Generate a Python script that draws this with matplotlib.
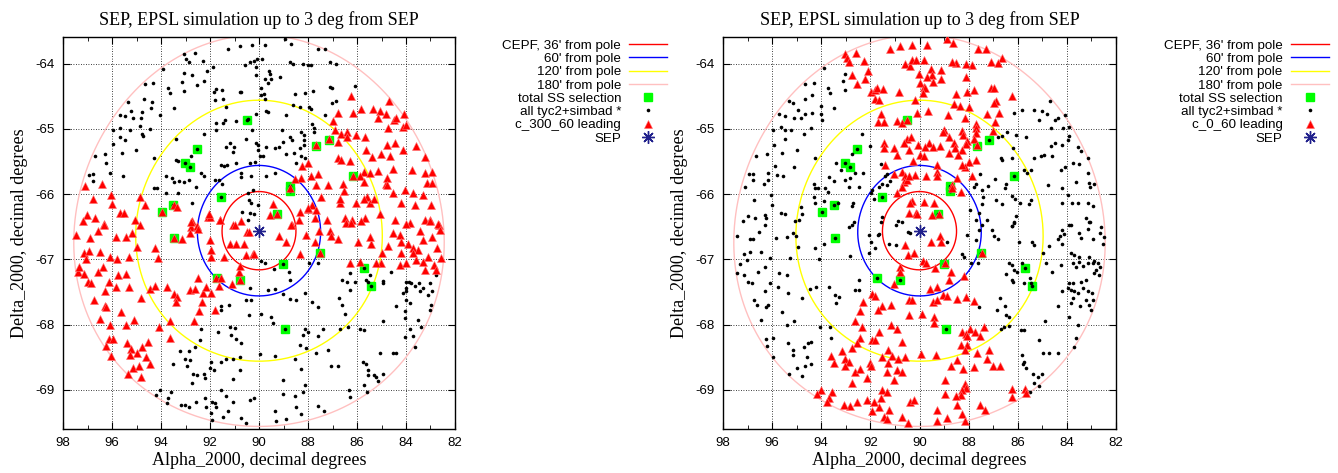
import numpy as np
import matplotlib
matplotlib.use("Agg")
import matplotlib.pyplot as plt

plt.rcParams['axes.unicode_minus'] = False
plt.rcParams['font.family'] = ['Liberation Sans', 'DejaVu Sans']

# South ecliptic pole and the rings drawn around it
sep_ra, sep_dec = 90.0, -66.5607
ring_arcmin = [36, 60, 120, 180]
ring_labels = ["CEPF, 36' from pole", "60' from pole", "120' from pole", "180' from pole"]
ring_colors = ['#ff0000', '#0000ff', '#ffff00', '#ffc0c0']

# total SS selection (same stars in both panels)
green_ss = np.array([
    (90.49, -64.86), (92.54, -65.31), (93.02, -65.53), (92.83, -65.59), (91.54, -66.05),
    (93.95, -66.28), (93.50, -66.17), (93.45, -66.68), (89.25, -66.30), (88.75, -65.88),
    (88.75, -65.95), (87.66, -65.26), (87.16, -65.17), (86.16, -65.73), (87.50, -66.90),
    (89.01, -67.07), (91.73, -67.28), (90.79, -67.32), (88.93, -68.06), (85.70, -67.14),
    (85.44, -67.41)])

# left panel: stars not selected (black) and c_300_60 leading (red)
left_black = np.array([
    (91.27, -63.78), (90.79, -63.73), (90.27, -63.72), (93.07, -63.86), (92.99, -63.93),
    (92.86, -63.97), (92.60, -63.84), (92.29, -63.96), (91.88, -64.05), (90.57, -64.02),
    (90.35, -63.98), (90.22, -63.96), (93.93, -64.08), (93.07, -64.15), (92.75, -64.18),
    (93.13, -64.28), (92.53, -64.33), (92.24, -64.26), (92.12, -64.12), (93.07, -64.42),
    (94.65, -64.32), (94.33, -64.29), (93.73, -64.38), (93.65, -64.45), (91.85, -64.43),
    (91.77, -64.39), (91.50, -64.40), (90.79, -64.44), (95.36, -64.59), (95.22, -64.72),
    (95.69, -64.79), (95.48, -64.81), (95.14, -64.84), (94.82, -64.83), (94.76, -64.74),
    (94.87, -64.95), (94.39, -64.68), (94.38, -64.59), (94.71, -64.55), (94.03, -64.79),
    (93.47, -64.68), (91.81, -64.56), (91.47, -64.55), (91.74, -64.91), (91.47, -64.91),
    (90.93, -64.88), (90.45, -64.85), (95.96, -65.02), (95.66, -64.98), (95.28, -65.02),
    (95.66, -65.13), (95.47, -65.17), (95.96, -65.23), (94.76, -65.08), (94.73, -65.11),
    (94.44, -65.00), (95.01, -65.33), (95.61, -65.37), (96.27, -65.38), (96.68, -65.42),
    (96.23, -65.52), (96.07, -65.67), (96.94, -65.70), (96.78, -65.69), (96.78, -65.80),
    (95.55, -65.73), (94.29, -65.45), (93.40, -65.15), (94.30, -65.90), (94.16, -65.91),
    (93.78, -65.72), (93.55, -65.76), (93.48, -65.82), (93.27, -65.80), (93.07, -65.82),
    (92.86, -65.78), (92.56, -65.89), (93.29, -65.49), (93.40, -65.47), (92.78, -65.42),
    (92.26, -65.08), (92.35, -65.68), (92.26, -65.72), (93.78, -65.98), (93.30, -65.98),
    (92.73, -66.14), (91.74, -65.01), (91.40, -64.87), (91.33, -65.28), (91.03, -65.28),
    (91.20, -65.22), (91.06, -65.36), (90.93, -65.53), (90.72, -65.68), (90.72, -65.74),
    (90.54, -65.15), (90.27, -65.02), (90.11, -65.22), (90.04, -65.33), (90.38, -65.53),
    (90.31, -65.73), (90.18, -65.51), (90.24, -65.94), (91.54, -65.55), (91.44, -65.57),
    (91.29, -65.55), (91.80, -65.78), (91.63, -65.78), (91.50, -65.85), (90.73, -64.44),
    (91.33, -64.66), (90.45, -65.99), (90.41, -66.09), (90.31, -66.14), (90.68, -66.27),
    (90.38, -66.29), (90.22, -66.30), (90.45, -66.39),
    (89.76, -63.72), (88.95, -63.63), (88.68, -63.70), (87.59, -63.78), (87.32, -63.78),
    (90.07, -63.93), (89.88, -63.93), (88.72, -63.97), (88.61, -64.00), (88.20, -64.00),
    (88.00, -64.02), (87.86, -64.02), (87.12, -63.98), (86.87, -64.00), (90.11, -64.05),
    (90.14, -64.17), (89.59, -64.11), (89.56, -64.16), (89.50, -64.23), (89.77, -64.23),
    (89.63, -64.30), (89.13, -64.20), (89.90, -64.38), (89.81, -64.46), (89.93, -64.48),
    (89.77, -64.54), (88.54, -64.46), (88.14, -64.45), (87.80, -64.42), (87.12, -64.36),
    (87.01, -64.38), (86.87, -64.57), (87.01, -64.61), (86.10, -64.34), (89.73, -64.72),
    (89.63, -64.74), (90.11, -64.77), (88.88, -64.79), (88.61, -64.64), (88.34, -64.67),
    (87.96, -64.67), (87.89, -64.69), (87.32, -64.79), (89.06, -65.01), (88.75, -65.12),
    (88.65, -65.17), (89.02, -65.20), (88.27, -65.05), (88.18, -65.10), (88.18, -65.17),
    (88.34, -65.30), (88.16, -65.25), (87.82, -64.93), (87.76, -64.99), (87.76, -65.05),
    (90.04, -65.25), (89.97, -65.42), (89.84, -65.42), (89.70, -65.28), (89.36, -65.29),
    (89.18, -65.28), (88.88, -65.39), (88.59, -65.37), (88.27, -65.42), (88.11, -65.44),
    (88.48, -65.53), (89.33, -65.67), (89.73, -65.72), (90.05, -66.16),
    (91.54, -67.71), (91.22, -67.70), (91.55, -67.78), (90.52, -67.63), (90.31, -67.62),
    (90.42, -67.86), (92.38, -68.07), (91.69, -68.11), (91.20, -68.03), (91.00, -68.05),
    (91.13, -68.16), (90.93, -68.22), (90.72, -68.28), (92.42, -68.24), (92.63, -68.35),
    (92.86, -68.40), (93.21, -68.40), (93.03, -68.53), (92.80, -68.54), (92.94, -68.64),
    (93.51, -68.60), (92.69, -68.76), (92.53, -68.77), (92.26, -68.76), (92.19, -68.82),
    (92.73, -68.89), (91.95, -68.58), (91.99, -68.67), (91.84, -68.69), (91.06, -68.52),
    (90.76, -68.49), (91.36, -68.52), (91.54, -68.58), (90.79, -68.69), (91.06, -68.84),
    (94.19, -69.08), (94.03, -69.00), (93.71, -69.13), (93.76, -69.20), (93.58, -69.03),
    (93.17, -69.23), (93.03, -69.23), (92.86, -69.26), (92.56, -69.18), (92.22, -69.13),
    (91.92, -69.18), (91.81, -69.20), (92.15, -69.26), (91.74, -69.26), (91.06, -69.18),
    (91.33, -69.10), (91.56, -69.00), (91.95, -69.35), (91.47, -69.41), (91.90, -69.46),
    (90.72, -69.43), (90.52, -69.51), (91.27, -69.32), (90.38, -69.15), (90.22, -69.13),
    (89.90, -67.03), (89.77, -67.06), (89.39, -67.15), (88.79, -67.20), (88.75, -67.32),
    (87.96, -67.06), (87.59, -67.05), (89.62, -67.47), (89.36, -67.46), (89.02, -67.53),
    (88.75, -67.61), (88.50, -67.62), (88.14, -67.51), (87.82, -67.65), (87.59, -67.73),
    (86.73, -67.59), (86.60, -67.70), (86.50, -67.84), (90.38, -67.44), (89.90, -67.84),
    (89.50, -67.89), (89.43, -67.98), (88.14, -68.06), (88.20, -68.16), (88.00, -68.11),
    (87.39, -68.06), (87.59, -68.18), (86.71, -68.06), (86.37, -68.03), (85.89, -68.07),
    (85.73, -68.08), (88.34, -68.31), (88.07, -68.36), (87.69, -68.43), (87.18, -68.39),
    (87.05, -68.64), (86.78, -68.64), (88.54, -68.52), (88.27, -68.68), (89.97, -68.45),
    (89.36, -68.48), (89.02, -68.85), (89.02, -69.06), (89.36, -69.32), (89.32, -69.48),
    (88.88, -69.45), (88.48, -69.26), (88.14, -68.92), (88.20, -69.03), (88.54, -69.09),
    (87.59, -69.24), (87.36, -69.32), (88.30, -69.37), (86.33, -69.00), (86.30, -69.11),
    (85.73, -68.92), (85.59, -69.04), (85.76, -68.57), (85.65, -68.60), (85.55, -68.69),
    (85.55, -68.77), (85.32, -68.77), (85.21, -68.81), (85.14, -68.87), (84.94, -68.76),
    (85.07, -68.43), (84.53, -68.44), (84.39, -68.43), (84.94, -67.94), (84.05, -68.19),
    (84.05, -67.90), (84.03, -67.79), (83.85, -68.06), (83.71, -68.18), (83.51, -67.93),
    (83.65, -68.34), (83.37, -68.03), (83.03, -67.78), (82.97, -67.70), (83.09, -67.55),
    (82.93, -67.49), (83.31, -67.44), (83.41, -67.49), (83.88, -67.34), (84.01, -67.34),
    (83.78, -67.37), (83.65, -67.41), (83.47, -67.37), (83.99, -67.44), (84.01, -67.49),
    (84.12, -67.52), (83.99, -67.62), (83.85, -67.67), (83.03, -67.36), (82.79, -67.24),
    (84.60, -67.19), (85.48, -67.24), (85.65, -67.32), (85.54, -67.34), (84.94, -67.33),
    (84.94, -67.37), (84.42, -67.72), (86.30, -67.21), (86.30, -67.47), (86.60, -67.32),
    (86.40, -67.34), (86.10, -67.34)])

left_red = np.array([
    (97.12, -65.88), (96.39, -65.84), (96.78, -66.08), (96.03, -66.01), (96.00, -66.15),
    (94.84, -66.05), (94.65, -66.16), (97.02, -66.32), (96.71, -66.36), (96.31, -66.46),
    (95.66, -66.29), (95.51, -66.29), (95.07, -66.39), (94.87, -66.47), (93.95, -66.28),
    (93.48, -66.16), (93.35, -66.20), (92.75, -66.41), (92.79, -66.50), (92.53, -66.49),
    (92.08, -66.35), (91.99, -66.35), (91.61, -66.40), (91.06, -66.47), (90.72, -66.41),
    (92.04, -66.30), (91.58, -66.40), (90.97, -66.48), (92.48, -66.54),
    (86.26, -64.49), (84.69, -64.57), (86.78, -64.75), (86.16, -64.75), (85.85, -64.70),
    (85.35, -64.70), (85.07, -64.72), (84.83, -64.78), (85.14, -64.84), (84.73, -64.99),
    (84.50, -64.86), (84.42, -64.83), (84.10, -64.78), (84.12, -64.97), (83.99, -64.94),
    (86.98, -64.88), (86.91, -65.02), (86.67, -65.08), (86.39, -65.05), (86.40, -65.12),
    (86.78, -65.20), (86.03, -65.09), (87.16, -65.15), (87.66, -65.25), (85.66, -65.12),
    (85.65, -65.32), (86.27, -65.49), (86.78, -65.45), (86.64, -65.48), (84.78, -65.24),
    (84.46, -65.22), (84.12, -65.33), (83.58, -65.27), (83.22, -65.43), (85.37, -65.43),
    (85.01, -65.39), (84.67, -65.42), (84.53, -65.62), (83.74, -65.63), (83.22, -65.67),
    (82.93, -65.66), (85.73, -65.66), (85.46, -65.67), (85.86, -65.73), (85.14, -65.64),
    (84.80, -65.85), (84.76, -65.76), (86.16, -65.72), (86.57, -65.84), (86.54, -65.95),
    (87.18, -65.86), (87.69, -65.86), (87.86, -65.73), (87.59, -65.69), (88.23, -65.57),
    (88.00, -65.52), (87.46, -66.04), (85.71, -65.81), (85.59, -66.05), (85.73, -66.08),
    (85.48, -66.14), (85.29, -66.07), (84.78, -65.86), (84.53, -65.99), (84.04, -65.93),
    (83.71, -65.98), (83.14, -65.83), (82.93, -65.83), (83.31, -66.02), (82.97, -66.17),
    (83.62, -66.17), (84.19, -66.13), (87.84, -66.17), (88.75, -65.90), (88.27, -65.76),
    (86.71, -66.14), (86.68, -66.08), (86.03, -66.13), (88.54, -65.77), (88.34, -66.27),
    (88.00, -66.23), (87.73, -66.36), (87.66, -66.25), (89.43, -66.15), (89.56, -66.32),
    (89.25, -66.30), (88.64, -66.47), (87.22, -66.39), (86.50, -66.36), (86.19, -66.39),
    (85.69, -66.37), (85.05, -66.31), (84.44, -66.39), (83.85, -66.44), (83.21, -66.40),
    (83.03, -66.40), (82.67, -66.47), (88.37, -66.40), (87.99, -66.22),
    (97.18, -66.41), (96.33, -66.47), (96.57, -66.56), (96.91, -66.68), (97.46, -66.63),
    (95.82, -66.66), (95.41, -66.65), (95.20, -66.59), (94.98, -66.81), (94.26, -66.83),
    (93.13, -66.69), (93.45, -66.68), (97.16, -66.91), (96.95, -66.87), (96.48, -66.88),
    (97.05, -67.00), (96.10, -66.96), (95.80, -67.00), (95.31, -66.97), (94.12, -66.98),
    (97.39, -67.20), (97.16, -67.22), (97.35, -67.12), (96.57, -67.19), (96.37, -67.11),
    (96.98, -67.34), (96.84, -67.37), (96.12, -67.34), (95.76, -67.24), (95.41, -67.23),
    (96.30, -67.48), (95.82, -67.42), (95.31, -67.42), (94.83, -67.59), (94.46, -67.45),
    (94.23, -67.41), (93.74, -67.42), (96.73, -67.63), (96.30, -67.71), (96.23, -67.73),
    (96.48, -67.92), (95.65, -67.80), (95.12, -67.93), (95.41, -68.01), (96.10, -68.01),
    (93.47, -67.53), (93.35, -67.58), (93.40, -67.66), (92.83, -67.47), (92.63, -67.45),
    (92.29, -67.51), (92.49, -67.29), (92.33, -67.66), (92.45, -67.79), (92.65, -67.94),
    (93.65, -67.95), (94.08, -68.03), (91.95, -66.97), (91.77, -67.28), (91.54, -67.28),
    (90.79, -67.31), (91.09, -67.38), (90.82, -67.20), (90.79, -67.10), (91.63, -67.41),
    (91.96, -67.52), (91.81, -67.77), (92.15, -67.42), (91.44, -66.97), (91.95, -66.86),
    (91.20, -66.76), (90.95, -66.77), (90.63, -66.77), (90.52, -66.93), (90.24, -66.92),
    (90.49, -66.58), (90.41, -66.58), (92.83, -66.59), (91.99, -66.71), (92.76, -66.42),
    (96.12, -68.22), (95.96, -68.22), (96.26, -68.33), (95.39, -68.28), (95.21, -68.38),
    (95.28, -68.46), (94.98, -68.43), (94.63, -68.49), (94.53, -68.26), (94.76, -68.34),
    (96.03, -68.48), (95.14, -68.67), (94.90, -68.64), (95.35, -68.76), (94.80, -68.80),
    (94.46, -68.60), (93.65, -68.21), (88.68, -66.47), (89.18, -66.64), (88.91, -66.73),
    (90.22, -66.92), (88.31, -66.92), (88.07, -66.63), (87.55, -66.56), (87.73, -66.73),
    (87.50, -66.90), (87.12, -66.56), (87.05, -66.64), (86.78, -66.69), (86.46, -66.45),
    (86.23, -66.44), (85.85, -66.41), (85.96, -66.73), (85.41, -66.77), (85.48, -66.65),
    (84.99, -66.91), (84.73, -66.79), (85.01, -67.05), (85.21, -67.06), (84.26, -67.09),
    (83.99, -67.06), (83.99, -66.46), (83.44, -66.56), (83.03, -66.41), (82.69, -66.46),
    (82.63, -66.55), (82.93, -66.66), (83.31, -66.70), (84.53, -66.60), (84.26, -66.63),
    (84.19, -66.73), (83.92, -66.76), (83.71, -66.83), (83.51, -66.86), (83.61, -67.01),
    (83.10, -66.97), (82.86, -67.09), (83.24, -67.16), (82.76, -67.16), (82.56, -66.98),
    (82.73, -66.83), (83.71, -66.91), (83.31, -67.04), (84.19, -66.90), (86.30, -67.05),
    (85.89, -67.04)])

# right panel: stars not selected (black) and c_0_60 leading (red)
right_black = np.array([
    (93.88, -64.07), (93.12, -64.27), (93.05, -64.16), (93.02, -64.41), (93.63, -64.45),
    (93.73, -64.37), (94.31, -64.29), (94.65, -64.32), (94.68, -64.55), (94.38, -64.48),
    (95.17, -64.61), (95.33, -64.58), (95.47, -64.81), (95.71, -64.78), (94.95, -64.71),
    (95.09, -64.84), (94.82, -64.83), (94.68, -64.78), (94.38, -64.76), (93.99, -64.65),
    (94.00, -64.78), (93.95, -64.87), (93.50, -64.68), (94.41, -64.98), (94.71, -65.08),
    (95.63, -64.97), (95.47, -65.02), (95.22, -65.02), (95.95, -65.02), (95.92, -65.24),
    (95.47, -65.16), (95.58, -65.37), (94.99, -65.33), (96.22, -65.39), (95.88, -65.57),
    (95.81, -65.71), (95.54, -65.73), (95.09, -65.59), (96.18, -65.67), (96.15, -65.78),
    (96.65, -65.42), (97.10, -65.89), (96.72, -66.09), (96.93, -65.69), (96.76, -65.69),
    (96.76, -65.79), (96.35, -65.85), (96.05, -66.01), (96.01, -66.17), (94.24, -65.45),
    (94.27, -65.90), (94.14, -65.90), (93.86, -65.90), (94.31, -65.85), (93.90, -66.11),
    (93.73, -65.97), (93.50, -65.80), (93.40, -65.52), (92.75, -65.39), (92.30, -65.67),
    (92.64, -65.67), (92.88, -65.89), (93.18, -65.63), (93.05, -65.78), (92.84, -65.76),
    (92.48, -65.89), (93.70, -65.74), (92.34, -65.08), (92.00, -65.27), (91.39, -65.73),
    (91.32, -65.69), (91.22, -65.80), (91.55, -65.54), (91.97, -65.99), (91.93, -65.94),
    (91.86, -66.07), (91.66, -65.89), (91.52, -65.85), (91.32, -65.86), (92.75, -66.19),
    (92.72, -66.13), (92.68, -66.42), (92.75, -66.47), (93.32, -66.14), (94.31, -66.05),
    (94.24, -66.14), (94.82, -66.20), (94.79, -66.31), (94.90, -66.39), (95.06, -66.41),
    (95.63, -66.29), (95.47, -66.30), (96.31, -66.32), (96.24, -66.36), (96.99, -66.34),
    (96.69, -66.36), (91.56, -66.42), (91.52, -66.35), (90.88, -66.41), (90.73, -66.42),
    (84.68, -64.58), (85.81, -64.71), (86.15, -64.76), (85.33, -64.71), (85.02, -64.72),
    (84.79, -64.77), (85.13, -64.86), (84.38, -64.84), (84.48, -64.87), (84.65, -64.99),
    (84.07, -64.79), (83.90, -64.97), (84.15, -64.98), (86.42, -65.05), (86.63, -65.11),
    (86.79, -65.13), (86.08, -65.10), (85.65, -65.13), (86.19, -65.30), (86.69, -65.45),
    (86.63, -65.48), (86.24, -65.45), (85.33, -65.44), (85.06, -65.41), (84.93, -65.40),
    (84.65, -65.27), (84.61, -65.42), (84.18, -65.25), (84.48, -65.22), (83.97, -65.17),
    (83.90, -65.11), (83.56, -65.28), (83.43, -65.34), (83.16, -65.45), (83.77, -65.53),
    (83.50, -65.54), (84.07, -65.58), (84.24, -65.63), (85.47, -65.63), (85.61, -65.68),
    (85.74, -65.63), (86.49, -65.85), (86.93, -65.77), (87.20, -65.87), (87.55, -65.69),
    (87.71, -65.84), (87.78, -65.89), (87.47, -65.94), (87.41, -66.05), (86.87, -66.09),
    (86.63, -66.15), (87.44, -66.15), (87.96, -66.24), (87.58, -66.29), (87.69, -66.39),
    (87.44, -66.47), (87.24, -66.40), (86.52, -65.90), (86.24, -66.03), (86.11, -66.07),
    (85.92, -66.14), (85.47, -66.09), (85.56, -66.15), (86.08, -66.33), (86.24, -66.49),
    (86.15, -66.44), (84.75, -65.86), (84.18, -65.91), (83.61, -65.81), (83.16, -65.68),
    (83.09, -65.83), (83.06, -65.89), (82.88, -65.85), (83.97, -66.02), (84.18, -66.13),
    (83.80, -66.14), (83.56, -66.14), (83.16, -66.14), (82.95, -66.18), (83.22, -66.37),
    (83.09, -66.42), (83.84, -66.47),
    (97.17, -66.41), (96.29, -66.47), (96.53, -66.58), (96.90, -66.69), (96.76, -66.69),
    (97.41, -66.64), (97.13, -66.92), (96.90, -66.88), (96.45, -66.89), (97.03, -67.01),
    (97.31, -67.07), (97.44, -67.21), (97.13, -67.24), (96.56, -67.20), (96.31, -67.11),
    (96.99, -67.34), (96.83, -67.37), (96.31, -67.49), (96.72, -67.63), (96.63, -67.70),
    (96.26, -67.73), (96.18, -67.70), (96.45, -67.93), (95.95, -68.21), (96.24, -68.22),
    (96.22, -68.33), (95.97, -68.49), (95.33, -68.76), (94.99, -68.67), (94.79, -68.79),
    (94.68, -68.64), (94.59, -68.50), (94.41, -68.60), (94.72, -68.34), (94.52, -68.28),
    (94.41, -68.26), (95.17, -68.39), (95.13, -68.46), (95.36, -68.28), (95.61, -67.80),
    (95.40, -68.01), (95.09, -67.94), (95.36, -67.52), (95.40, -67.24), (95.71, -67.21),
    (95.78, -67.42), (96.08, -67.36), (96.08, -66.98), (95.84, -66.68), (95.40, -66.66),
    (95.17, -66.59), (95.03, -66.64), (94.93, -66.81), (95.29, -66.98), (94.24, -66.83),
    (93.90, -66.76), (94.11, -67.00), (94.79, -67.60), (94.45, -67.46), (94.22, -67.42),
    (94.04, -68.03), (93.63, -68.04), (93.61, -68.21), (93.70, -67.43), (93.43, -67.55),
    (93.29, -67.58), (93.39, -67.67), (92.88, -66.51), (92.82, -66.95), (92.48, -67.32),
    (92.61, -67.47), (92.45, -67.47), (92.07, -66.63), (91.96, -66.73), (92.07, -66.91),
    (91.80, -66.83), (91.69, -66.63), (91.63, -66.61), (91.25, -66.76), (90.95, -66.78),
    (90.46, -66.58), (90.37, -66.59), (90.94, -66.48),
    (88.87, -66.73), (88.05, -66.63), (87.58, -66.55), (87.69, -66.70), (87.06, -66.55),
    (86.97, -66.64), (86.79, -66.69), (86.15, -66.42), (86.22, -66.49), (85.95, -66.73),
    (85.43, -66.73), (85.33, -66.78), (84.99, -66.90), (84.72, -66.80), (84.38, -66.69),
    (84.18, -66.77), (84.29, -66.64), (84.11, -66.61), (84.20, -66.55), (83.90, -66.47),
    (83.50, -66.59), (83.43, -66.68), (83.06, -66.42), (83.12, -66.54), (82.61, -66.50),
    (82.65, -66.59), (82.95, -66.69), (82.50, -66.65), (82.54, -66.76), (88.26, -66.92),
    (88.19, -66.97), (87.92, -67.06), (87.61, -67.06), (86.46, -67.22), (86.35, -67.05),
    (86.24, -67.09), (86.15, -67.16), (86.05, -67.20), (86.24, -67.32), (86.19, -67.34),
    (85.84, -67.06), (85.74, -67.37), (85.51, -67.29), (85.47, -67.36), (84.86, -67.05),
    (84.59, -67.19), (84.24, -67.09), (83.84, -66.90), (83.70, -66.93), (83.50, -66.97),
    (83.50, -67.04), (83.77, -67.05), (83.61, -67.11), (83.36, -67.10), (83.16, -67.06),
    (82.88, -67.02), (83.09, -66.97), (82.95, -67.06), (82.75, -67.05), (82.65, -67.11),
    (82.82, -67.16), (82.88, -67.21), (82.68, -67.24), (83.22, -67.31), (83.43, -67.34),
    (83.77, -67.37), (83.90, -67.36), (83.97, -67.44), (83.84, -67.47), (83.70, -67.48),
    (83.56, -67.52), (83.36, -67.44), (83.16, -67.48), (82.98, -67.52), (83.22, -67.62),
    (83.09, -67.70), (83.02, -67.77), (82.95, -67.63), (84.18, -67.49), (83.77, -67.60),
    (83.84, -67.67), (83.90, -67.88), (83.56, -68.01), (83.47, -67.72), (87.58, -67.73),
    (86.83, -67.77), (86.73, -67.60), (86.52, -67.71), (86.46, -67.85), (86.35, -67.88),
    (86.69, -68.06), (86.56, -68.03), (86.35, -68.02), (85.88, -68.08), (85.74, -68.08),
    (85.13, -68.24), (84.88, -67.94), (84.38, -67.72), (84.99, -68.43), (84.72, -68.44),
    (84.38, -68.44), (85.81, -68.46), (85.74, -68.57), (85.78, -68.60), (85.67, -68.67),
    (85.37, -68.76), (85.16, -68.80), (85.02, -68.76), (85.33, -68.90), (85.13, -68.94),
    (85.51, -69.03), (83.63, -68.21), (83.70, -68.34)])

right_red = np.array([
    (93.05, -63.85), (92.95, -63.92), (92.86, -63.97), (92.59, -63.84), (92.27, -63.96),
    (92.75, -64.17), (92.54, -64.32), (92.23, -64.24), (92.10, -64.11), (91.96, -64.43),
    (91.80, -64.40), (91.73, -64.37), (91.48, -64.39), (91.82, -64.55), (91.66, -64.56),
    (91.55, -64.77), (91.69, -64.90), (91.46, -64.90), (91.22, -63.77), (90.78, -63.73),
    (90.30, -63.72), (90.57, -64.01), (90.37, -64.03), (90.30, -63.94), (90.82, -64.43),
    (90.19, -64.56), (90.91, -64.88), (90.71, -64.91), (90.50, -65.15), (90.64, -65.22),
    (91.46, -65.21), (91.46, -65.30), (91.05, -65.30), (90.91, -65.40), (90.44, -65.33),
    (91.39, -65.56), (91.05, -65.69), (90.71, -65.66), (90.60, -65.72), (90.64, -65.81),
    (90.50, -65.79), (90.71, -65.89), (90.91, -65.99), (90.30, -66.10), (90.16, -66.29),
    (90.49, -64.86),
    (89.69, -63.72), (88.87, -63.63), (88.64, -63.69), (87.61, -63.77), (87.28, -63.77),
    (86.63, -63.91), (86.79, -63.99), (87.10, -63.97), (87.88, -64.02), (88.12, -64.00),
    (88.53, -63.99), (88.67, -63.97), (89.82, -63.94), (90.14, -63.95), (89.55, -64.09),
    (89.14, -64.10), (89.51, -64.18), (89.14, -64.23), (89.69, -64.20), (90.03, -64.16),
    (89.46, -64.28), (89.96, -64.30), (89.82, -64.36), (89.76, -64.38), (89.86, -64.45),
    (88.12, -64.20), (88.05, -64.43), (87.78, -64.40), (88.50, -64.47), (87.10, -64.37),
    (86.97, -64.37), (86.22, -64.50), (86.87, -64.57), (86.97, -64.61), (87.99, -64.67),
    (88.60, -64.62), (88.37, -64.65), (88.84, -64.79), (89.65, -64.72), (90.10, -64.75),
    (87.24, -64.77), (86.76, -64.76), (88.15, -64.84), (86.93, -64.89), (87.69, -64.93),
    (87.71, -64.99), (87.71, -65.07), (87.78, -65.15), (87.01, -65.03), (88.29, -65.03),
    (88.23, -65.10), (88.05, -65.18), (88.12, -65.23), (89.01, -65.01), (89.05, -65.05),
    (88.80, -65.12), (89.62, -65.22), (90.05, -65.25), (90.33, -65.13), (89.76, -65.28),
    (89.46, -65.28), (89.18, -65.27), (88.60, -65.22), (88.56, -65.30), (88.26, -65.33),
    (88.42, -65.40), (88.80, -65.37), (90.00, -65.40), (89.82, -65.42), (90.27, -65.49),
    (87.71, -65.48), (87.99, -65.51), (88.15, -65.58), (88.29, -65.55), (89.28, -65.56),
    (89.28, -65.66), (89.28, -65.72), (89.73, -65.72), (90.19, -65.71), (90.41, -65.73),
    (88.46, -65.76), (87.85, -65.73), (88.67, -65.86), (88.30, -65.97), (89.82, -66.12),
    (89.41, -66.14), (90.37, -66.13), (90.41, -66.29), (90.10, -66.30), (89.51, -66.32),
    (87.65, -65.25), (88.69, -65.91), (89.21, -66.30),
    (90.60, -66.78), (90.46, -66.93), (90.23, -66.91), (90.80, -67.11), (90.78, -67.19),
    (91.05, -67.38), (90.44, -67.62), (90.30, -67.62), (90.41, -67.85), (91.18, -67.70),
    (91.52, -67.71), (91.69, -67.77), (91.93, -67.53), (91.82, -67.56), (92.31, -67.66),
    (92.41, -67.79), (92.64, -67.95), (92.34, -68.04), (91.93, -68.24), (91.80, -68.24),
    (92.41, -68.21), (92.54, -68.28), (92.75, -68.36), (93.16, -68.40), (93.02, -68.53),
    (92.88, -68.58), (93.50, -68.59), (93.59, -68.48), (93.02, -68.64), (92.64, -68.73),
    (92.41, -68.68), (92.75, -68.89), (92.14, -68.82), (92.00, -68.59), (91.96, -68.64),
    (91.52, -68.49), (91.28, -68.39), (91.66, -68.11), (91.18, -68.01), (90.91, -68.06),
    (90.73, -68.26), (91.12, -68.48), (90.87, -68.53), (91.28, -68.59), (90.91, -68.69),
    (90.57, -68.49), (91.32, -68.72), (90.71, -68.72), (91.02, -68.85), (91.52, -69.00),
    (91.32, -69.03), (91.55, -69.13), (91.25, -69.31), (91.66, -69.26), (91.93, -69.33),
    (91.86, -69.18), (92.14, -69.15), (92.54, -69.18), (92.82, -69.24), (93.09, -69.23),
    (93.56, -69.03), (93.67, -69.13), (94.01, -69.00), (94.18, -69.06), (93.77, -69.19),
    (91.46, -69.41), (91.32, -69.45), (90.71, -69.42), (90.46, -69.51), (90.37, -69.18),
    (90.23, -69.15),
    (89.18, -66.64), (89.55, -66.73), (89.14, -66.74), (89.86, -67.02), (89.73, -67.05),
    (89.35, -67.14), (88.73, -67.19), (88.78, -67.32), (88.19, -67.26), (89.28, -67.42),
    (89.59, -67.46), (89.46, -67.66), (89.28, -67.62), (89.05, -67.55), (88.87, -67.56),
    (88.46, -67.61), (88.12, -67.58), (87.78, -67.64), (89.89, -67.84), (89.41, -67.89),
    (89.41, -67.97), (88.26, -68.11), (87.96, -68.06), (88.10, -68.14), (88.05, -68.18),
    (87.74, -68.11), (87.55, -68.18), (87.36, -68.04), (88.33, -68.31), (88.05, -68.31),
    (88.15, -68.39), (88.46, -68.55), (87.65, -68.43), (87.24, -68.53), (87.17, -68.39),
    (87.01, -68.63), (86.73, -68.64), (87.78, -68.65), (88.73, -68.64), (88.23, -68.68),
    (89.92, -68.45), (89.32, -68.47), (88.97, -68.85), (88.15, -68.91), (88.10, -68.97),
    (88.29, -69.00), (88.33, -69.08), (88.53, -69.09), (88.97, -69.06), (89.28, -69.31),
    (88.87, -69.43), (89.28, -69.47), (88.26, -69.37), (88.15, -69.47), (88.46, -69.23),
    (87.55, -69.23), (87.33, -69.31), (86.24, -68.99), (86.24, -69.11), (85.70, -68.99),
    (85.65, -69.05), (87.44, -66.90), (88.97, -67.06)])


def ring(radius_deg, n=400):
    # small circle on the sky around the pole, in RA/Dec
    r = np.radians(radius_deg)
    d0 = np.radians(sep_dec)
    th = np.linspace(0, 2 * np.pi, n)
    sin_dec = np.sin(d0) * np.cos(r) + np.cos(d0) * np.sin(r) * np.cos(th)
    dra = np.arctan2(np.sin(th) * np.sin(r) * np.cos(d0), np.cos(r) - np.sin(d0) * sin_dec)
    return sep_ra + np.degrees(dra), np.degrees(np.arcsin(sin_dec))


def draw_panel(ax, black, red, red_label):
    for arcmin, lab, col in zip(ring_arcmin, ring_labels, ring_colors):
        ra, dec = ring(arcmin / 60.0)
        ax.plot(ra, dec, color=col, lw=1.0, label=lab, zorder=2)
    ax.plot(green_ss[:, 0], green_ss[:, 1], ls='none', marker='s', ms=5.6,
            color='#00ff00', mec='#00ff00', label='total SS selection', zorder=3)
    # the SS-selected stars are tyc2 stars as well, so they get a dot too
    stars = np.vstack([black, green_ss])
    ax.plot(stars[:, 0], stars[:, 1], ls='none', marker='o', ms=2.6, mew=0,
            color='black', label='all tyc2+simbad *', zorder=4)
    ax.plot(red[:, 0], red[:, 1], ls='none', marker='^', ms=5.2, mew=0.4,
            color='#ff0000', mec='#ff7070', label=red_label, zorder=5)
    ax.plot([sep_ra], [sep_dec], ls='none', marker=(8, 2, 0), ms=9, mew=1.0,
            color='#20208c', label='SEP', zorder=6)

    ax.set_xlim(98, 82)
    ax.set_ylim(-69.6, -63.6)
    ax.set_xticks(np.arange(98, 81, -2))
    ax.set_xticks(np.arange(97, 82, -2), minor=True)
    ax.set_yticks(np.arange(-64, -70, -1))
    ax.tick_params(which='both', direction='in', top=True, right=True, labelsize=9.5)
    ax.tick_params(which='major', length=5, pad=6)
    ax.tick_params(which='minor', length=3)
    ax.grid(True, which='major', color='black', linestyle=(0, (1, 2)), lw=0.6)
    for s in ax.spines.values():
        s.set_linewidth(1.0)

    serif = {'family': 'Liberation Serif', 'size': 13}
    ax.set_title('SEP, EPSL simulation up to 3 deg from SEP', fontdict=serif, pad=9)
    ax.set_xlabel('Alpha_2000, decimal degrees', fontdict=serif, labelpad=2)
    ax.set_ylabel('Delta_2000, decimal degrees', fontdict=serif, labelpad=5)

    ax.legend(loc='upper right', bbox_to_anchor=(1.541, 0.995), markerfirst=False,
              frameon=False, fontsize=9.6, handlelength=2.85, handletextpad=0.6,
              labelspacing=0.07, borderpad=0, borderaxespad=0, numpoints=1)


fig = plt.figure(figsize=(13.38, 4.73), dpi=100)
ax_l = fig.add_axes([63 / 1338, 44 / 473, 392 / 1338, 391.5 / 473])
ax_r = fig.add_axes([723 / 1338, 44 / 473, 393 / 1338, 391.5 / 473])

draw_panel(ax_l, left_black, left_red, 'c_300_60 leading')
draw_panel(ax_r, right_black, right_red, 'c_0_60 leading')

fig.savefig('out.png', dpi=100)
